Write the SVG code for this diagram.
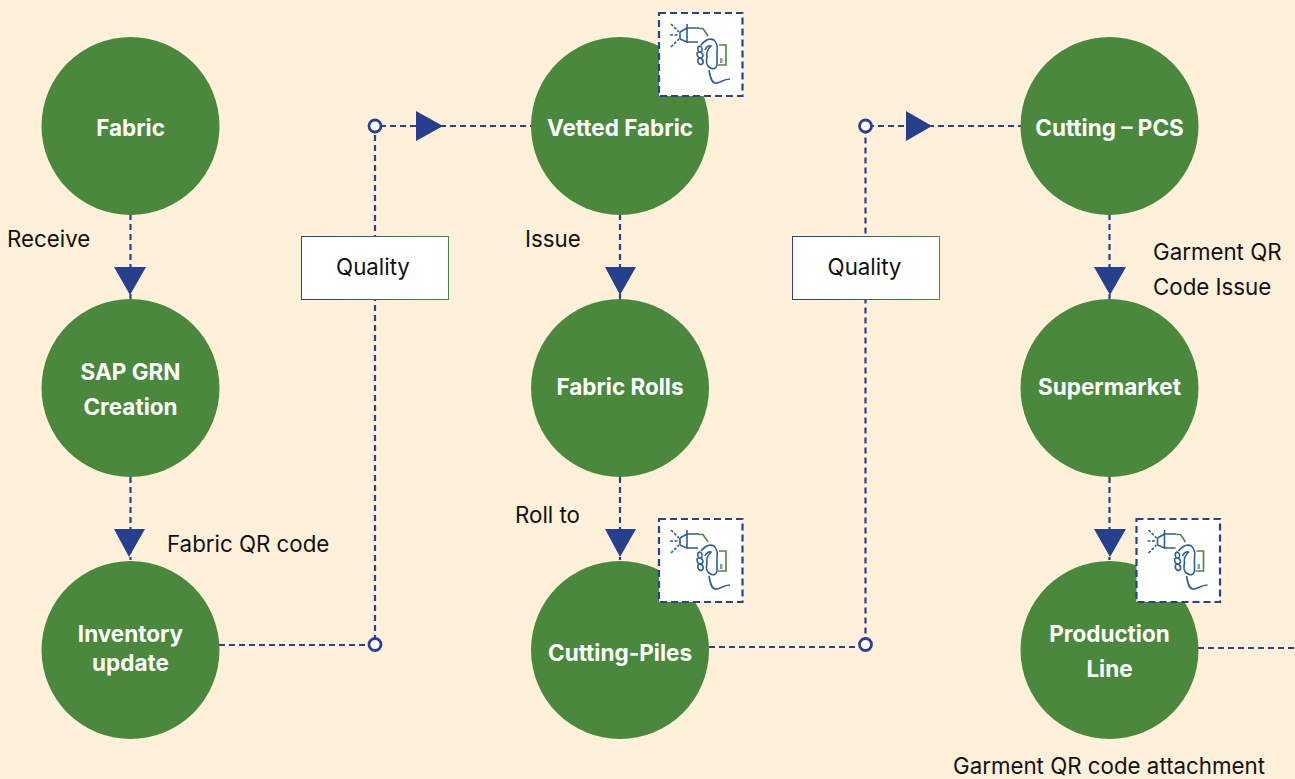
<svg xmlns="http://www.w3.org/2000/svg" width="1295" height="779" viewBox="0 0 1295 779">
<style>
.n{fill:#4a883e}
.t{font-family:"Inter","Liberation Sans",sans-serif;font-weight:700;font-size:22.500px;fill:#fff;text-anchor:middle}
.l{font-family:"Inter","Liberation Sans",sans-serif;font-size:22.300px;fill:#111}
.c{fill:none;stroke:#2a4190;stroke-width:2.200;stroke-dasharray:6 4}
.a{fill:#27408e}
.d{fill:#fff;stroke:#2a4190;stroke-width:2.800}
.q{fill:#fff;stroke-width:1}
.ib{fill:#fff;stroke:#2a4190;stroke-width:2.200;stroke-dasharray:7 4}
.i1{fill:none;stroke:#2f5f8f;stroke-width:1.600}
.i2{fill:none;stroke:#4a883e;stroke-width:1.600}
</style>
<defs>
<linearGradient id="g" x1="0" x2="1" y1="0" y2="0"><stop offset="0" stop-color="#2a4190"/><stop offset="1" stop-color="#4a883e"/></linearGradient>
<g id="ic">
<rect class="ib" x="0" y="0" width="83.500" height="83"/>
<path class="i1" stroke-dasharray="3 1.500" d="M12 11L20 19M11 22H20M12 34L20 26"/>
<path class="i1" d="M21 19V26M21 19L28 15M21 26L28 29M28 11V30M28 15H40M28 29H39"/>
<path class="i2" d="M40 15.500H44L49 23M60 32H67V52H59"/>
<path class="i1" d="M42 32C46 27 51 25 55 27C58 30 59 35 58 38V52C57 56 54 57 50 54C47 52 47 48 48 44C47 40 48 37 52 33C50 32 47 34 46 37M39 34C41 32 44 34 43 38C41 40 38 39 39 34ZM38 40C40 38 44 39 44 43C43 46 38 46 38 40ZM39 46C41 44 45 46 44 50C42 53 38 51 39 46ZM50 57C51 63 52 69 56 70C60 71 64 66 71 66"/>
<rect x="61" y="45" width="2.500" height="5" fill="#8a9bb5"/>
</g>
</defs>
<rect width="1295" height="779" fill="#fff0d9"/>
<g id="connectors">
<path class="c" d="M130.500 214V299M130.500 477V560M620 214V299M620 477V560M1109.500 214V299M1109.500 477V560"/>
<path class="c" d="M219 645H375V126H532M709 647H865.500V126H1021M1198 648H1295"/>
<path class="a" d="M114 267H146L130 295ZM114 529H145L129 557ZM605 267H636L620 295ZM605 529H636L620 557ZM1094 267H1126L1110 295ZM1094 529H1126L1110 557ZM416 111V141L443 126ZM906 111V141L932 126Z"/>
<circle class="d" cx="375" cy="126" r="6"/>
<circle class="d" cx="865.500" cy="126" r="6"/>
<circle class="d" cx="375" cy="644.500" r="6"/>
<circle class="d" cx="865.500" cy="644.500" r="6"/>
</g>
<g id="fabric"><circle class="n" cx="130.500" cy="126" r="89"/><text class="t" x="130.500" y="136">Fabric</text></g>
<g id="sap-grn"><circle class="n" cx="130.500" cy="388" r="89"/><text class="t" x="130.500" y="380">SAP GRN</text><text class="t" x="130.500" y="415">Creation</text></g>
<g id="inventory"><circle class="n" cx="130.500" cy="650" r="89"/><text class="t" x="130.500" y="642">Inventory</text><text class="t" x="130.500" y="671">update</text></g>
<g id="vetted"><circle class="n" cx="620" cy="126" r="89"/><text class="t" x="620" y="136">Vetted Fabric</text></g>
<g id="rolls"><circle class="n" cx="620" cy="388" r="89"/><text class="t" x="620" y="395">Fabric Rolls</text></g>
<g id="piles"><circle class="n" cx="620" cy="650" r="89"/><text class="t" x="620" y="661">Cutting-Piles</text></g>
<g id="pcs"><circle class="n" cx="1109.500" cy="126" r="89"/><text class="t" x="1109.500" y="136">Cutting – PCS</text></g>
<g id="supermarket"><circle class="n" cx="1109.500" cy="388" r="89"/><text class="t" x="1109.500" y="395">Supermarket</text></g>
<g id="line"><circle class="n" cx="1109.500" cy="650" r="89"/><text class="t" x="1109.500" y="642">Production</text><text class="t" x="1109.500" y="677">Line</text></g>
<g id="quality-1"><rect class="q" x="301.500" y="236.500" width="147" height="63" stroke="url(#g)"/><text class="l" x="373" y="275" text-anchor="middle">Quality</text></g>
<g id="quality-2"><rect class="q" x="792.500" y="236.500" width="147" height="63" stroke="url(#g)"/><text class="l" x="864.500" y="275" text-anchor="middle">Quality</text></g>
<g id="icon-1"><use href="#ic" x="659" y="13"/></g>
<g id="icon-2"><use href="#ic" x="659" y="519"/></g>
<g id="icon-3"><use href="#ic" x="1136.500" y="519"/></g>
<g id="labels">
<text class="l" x="7" y="247">Receive</text>
<text class="l" x="167" y="552">Fabric QR code</text>
<text class="l" x="525" y="247">Issue</text>
<text class="l" x="515" y="523">Roll to</text>
<text class="l" x="1153" y="260">Garment QR</text>
<text class="l" x="1153" y="295">Code Issue</text>
<text class="l" x="953" y="774">Garment QR code attachment</text>
</g>
</svg>
